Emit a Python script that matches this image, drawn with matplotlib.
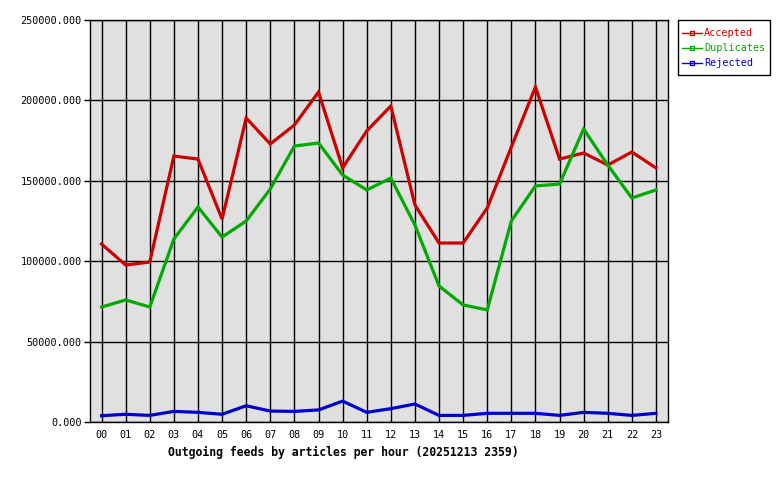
import matplotlib
matplotlib.use("Agg")
import matplotlib.pyplot as plt
from matplotlib.patches import Rectangle
from matplotlib.lines import Line2D

hours = ["00","01","02","03","04","05","06","07","08","09","10","11",
         "12","13","14","15","16","17","18","19","20","21","22","23"]
accepted = [110700, 97600, 99500, 165400, 163500, 126200, 189000, 172900,
            184700, 205200, 158000, 181000, 196500, 135000, 111300, 111300,
            133100, 171000, 208300, 163500, 167300, 159800, 167900, 158000]
duplicates = [71500, 75900, 71500, 113800, 133700, 115000, 125000, 144900,
              171600, 173500, 153600, 144300, 151700, 122500, 84600, 72800,
              69700, 125000, 146800, 148000, 182200, 159800, 139300, 144300]
rejected = [3900, 4800, 4100, 6600, 6000, 4800, 10100, 6800, 6600, 7500,
            13000, 6000, 8300, 11200, 4100, 4100, 5400, 5400, 5400, 4100,
            6000, 5400, 4100, 5400]
yticks = [0, 50000, 100000, 150000, 200000, 250000]
title = "Outgoing feeds by articles per hour (20251213 2359)"

series = [("Accepted", accepted, "#cc0000"),
          ("Duplicates", duplicates, "#00aa00"),
          ("Rejected", rejected, "#0000cc")]

W, H = 780, 480
plt.rcParams['font.family'] = ['DejaVu Sans Mono']
fig = plt.figure(figsize=(7.8, 4.8), dpi=100)
ax = fig.add_axes([90/W, 58/H, 578/W, 402/H])
ax.set_facecolor("#e0e0e0")

x = list(range(len(hours)))
for name, vals, col in series:
    ax.plot(x, vals, color=col, lw=2.3, solid_joinstyle="miter", zorder=3)

ax.set_xlim(-0.48, 23.5)
ax.set_ylim(0, 250000)
ax.set_xticks(x)
ax.set_xticklabels(hours)
ax.set_yticks(yticks)
ax.set_yticklabels([f"{v:.3f}" for v in yticks])
ax.tick_params(axis="x", length=0, pad=6, labelsize=7.3)
ax.tick_params(axis="y", length=4, width=1, pad=2, labelsize=7.3)
ax.grid(True, color="black", lw=1, zorder=1)
ax.set_axisbelow(True)
for s in ax.spines.values():
    s.set_linewidth(1)

fig.text(343/W, 1 - 452/H, title, ha="center", va="center",
         fontsize=8.3, fontweight="bold")

# legend box (figure-fraction coordinates from pixel layout)
fig.add_artist(Rectangle((678/W, 1 - 75/H), 92/W, 55/H, transform=fig.transFigure,
                         facecolor="white", edgecolor="black", lw=1))
for i, (name, _, col) in enumerate(series):
    yc = 1 - (33 + 15 * i) / H
    fig.add_artist(Line2D([682/W, 702/W], [yc, yc], transform=fig.transFigure,
                          color=col, lw=1))
    fig.add_artist(Line2D([692/W], [yc], transform=fig.transFigure, color=col,
                          marker="s", markersize=2.5, markerfacecolor="none",
                          markeredgecolor=col, lw=0))
    fig.text(704/W, yc, name, color=col, fontsize=7.3, ha="left", va="center")

fig.savefig("out.png", dpi=100)
